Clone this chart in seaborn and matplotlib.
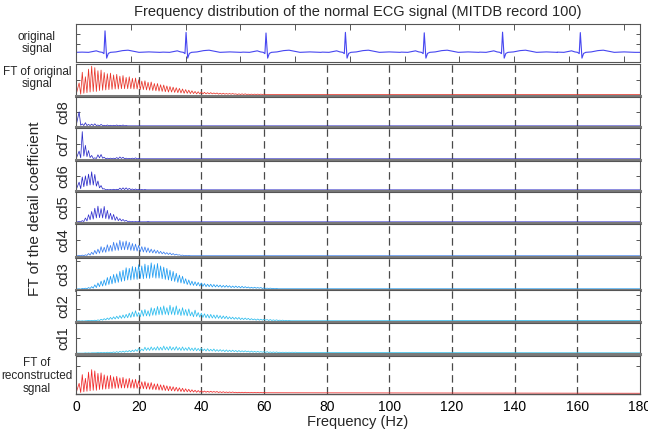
import numpy as np
import pandas as pd
import matplotlib
matplotlib.use("Agg")
import matplotlib.pyplot as plt
import seaborn as sns

sns.set_theme(style="white")
plt.rcParams['font.family'] = ['Liberation Sans', 'DejaVu Sans']

# ---------------- data ----------------
FREQ_STEP = 1.0  # Hz between neighbouring comb peaks

freq_ticks = [0, 20, 40, 60, 80, 100, 120, 140, 160, 180]
grid_freqs = [20, 40, 60, 80, 100, 120, 140, 160]

# original ECG trace: beat (R-peak) times in s, R heights, one beat shape
ecg_beat_times = [0.53, 2.01, 3.47, 4.92, 6.36, 7.79, 9.21]
ecg_r_heights = [1.00, 0.93, 0.90, 0.93, 0.91, 0.94, 0.92]
beat_offsets = [-0.42, -0.30, -0.22, -0.16, -0.10, -0.05, -0.02, 0.0, 0.03, 0.06, 0.10, 0.20, 0.32, 0.42, 0.52, 0.62, 0.80, 1.0]
beat_values = [0.01, 0.0, 0.04, 0.07, 0.02, 0.0, -0.06, 1.0, -0.27, -0.05, 0.0, 0.02, 0.08, 0.10, 0.05, 0.0, 0.02, 0.0]
ecg_time_ticks = [1, 2, 3, 4, 5, 6, 7, 8, 9, 10]

ft_orig_peaks = [40, 75, 60, 85, 95, 90, 80, 82, 74, 70,
                 72, 66, 68, 62, 64, 58, 60, 55, 56, 50,
                 46, 47, 42, 43, 38, 38, 34, 33, 30, 28,
                 26, 24, 22, 20, 18, 16, 14, 12, 11, 10,
                 9, 8, 8, 7, 7, 6, 6, 5, 5, 5,
                 4, 4, 4, 4, 3, 3, 3, 3, 3, 3]
ft_orig_troughs = [3, 6, 8, 10, 12, 12, 15, 16, 17, 18,
                   19, 20, 20, 21, 21, 21, 21, 20, 20, 18,
                   18, 17, 16, 15, 14, 13, 12, 11, 10, 10,
                   9, 8, 7, 6, 6, 5, 5, 4, 4, 4,
                   4, 4, 4, 4, 3, 3, 3, 3, 3, 3,
                   2, 2, 2, 2, 2, 2, 2, 2, 2, 2]

cd8_peaks = [50, 8, 12, 6, 7, 8, 4, 6, 3, 4, 3, 3, 4, 3, 4, 2]
cd8_troughs = [3, 2, 2, 2, 2, 2, 1, 2, 1, 1, 1, 1, 1, 1, 1, 1]

cd7_peaks = [26, 90, 45, 28, 12, 4, 14, 15, 6, 3, 3, 3, 5, 7, 6, 3, 2, 3, 4, 2]
cd7_troughs = [4, 10, 8, 5, 2, 2, 4, 3, 1, 1, 1, 1, 1, 2, 1, 1, 1, 1, 1, 1]

cd6_peaks = [28, 46, 50, 56, 64, 55, 32, 16, 5, 2, 2, 3, 3, 7, 8, 8, 6, 4, 4, 3, 2, 2]
cd6_troughs = [5, 12, 15, 18, 18, 14, 8, 4, 1, 1, 1, 1, 1, 2, 2, 2, 2, 1, 1, 1, 1, 1]

cd5_peaks = [2, 5, 14, 25, 36, 47, 54, 46, 53, 40, 30, 26, 18, 12, 9, 6, 3, 2, 2, 2, 1, 1, 2, 1]
cd5_troughs = [1, 2, 4, 8, 10, 14, 15, 14, 12, 10, 8, 6, 5, 4, 3, 2, 1, 1, 1, 1, 1, 1, 1, 1]

cd4_peaks = [2, 3, 4, 8, 12, 18, 22, 30, 28, 36,
             34, 44, 42, 50, 46, 48, 44, 40, 38, 34,
             30, 29, 26, 22, 20, 18, 15, 13, 11, 10,
             8, 6, 4, 3, 2, 2]
cd4_troughs = [1, 1, 2, 3, 5, 7, 9, 12, 12, 15,
               15, 18, 18, 20, 20, 20, 18, 17, 16, 14,
               13, 12, 11, 10, 9, 8, 7, 6, 5, 4,
               3, 3, 2, 1, 1, 1]

cd3_peaks = [1, 2, 3, 5, 8, 14, 20, 26, 30, 38,
             42, 48, 50, 58, 62, 70, 68, 74, 72, 80,
             76, 82, 78, 86, 80, 84, 76, 72, 68, 62,
             58, 52, 46, 42, 34, 30, 26, 24, 22, 20,
             18, 16, 16, 15, 14, 13, 12, 12, 11, 10,
             10, 9, 9, 8, 7, 6, 6, 5, 5, 4,
             3, 3, 2, 2]
cd3_troughs = [0, 1, 1, 2, 3, 5, 8, 10, 12, 15,
               17, 20, 22, 25, 27, 30, 30, 32, 32, 35,
               34, 36, 35, 38, 36, 36, 34, 32, 30, 27,
               25, 22, 20, 18, 15, 13, 12, 11, 10, 9,
               8, 8, 7, 7, 7, 6, 6, 6, 5, 5,
               5, 4, 4, 4, 3, 3, 3, 3, 2, 2,
               2, 2, 1, 1]

cd2_peaks = [1, 1, 1, 2, 2, 3, 4, 6, 8, 10,
             12, 14, 16, 18, 20, 22, 26, 30, 34, 28,
             36, 38, 34, 44, 42, 48, 46, 50, 44, 52,
             46, 50, 40, 44, 38, 40, 30, 36, 28, 26,
             24, 22, 22, 20, 20, 18, 17, 16, 14, 13,
             12, 12, 10, 10, 9, 8, 7, 7, 6, 6,
             5, 5, 4, 4, 3, 3, 2, 2]
cd2_troughs = [0, 0, 1, 1, 1, 1, 2, 3, 4, 5,
               6, 7, 8, 9, 10, 11, 12, 14, 15, 14,
               16, 17, 16, 19, 19, 21, 20, 22, 20, 22,
               20, 21, 18, 19, 17, 17, 14, 15, 13, 12,
               11, 10, 10, 9, 9, 8, 8, 7, 7, 6,
               6, 5, 5, 5, 4, 4, 3, 3, 3, 3,
               2, 2, 2, 2, 2, 1, 1, 1]

cd1_peaks = [0, 0, 1, 1, 1, 1, 2, 2, 2, 3,
             3, 4, 5, 6, 7, 8, 9, 10, 12, 16,
             14, 20, 18, 21, 19, 22, 20, 24, 21, 23,
             20, 22, 19, 21, 18, 20, 17, 18, 16, 17,
             14, 15, 13, 14, 12, 12, 11, 11, 10, 10,
             9, 9, 8, 8, 7, 7, 6, 6, 5, 5,
             5, 4, 4, 4, 3, 3, 3, 3, 3, 3]
cd1_troughs = [0, 0, 0, 0, 1, 1, 1, 1, 1, 1,
               2, 2, 2, 3, 3, 4, 4, 5, 6, 7,
               8, 9, 9, 10, 10, 10, 10, 11, 10, 10,
               10, 10, 9, 9, 9, 9, 8, 8, 8, 8,
               7, 7, 7, 6, 6, 6, 5, 5, 5, 5,
               4, 4, 4, 4, 3, 3, 3, 3, 3, 2,
               2, 2, 2, 2, 2, 2, 2, 2, 2, 2]

# ---------------- figure layout ----------------
W, H = 648, 430
fig = plt.figure(figsize=(W / 100, H / 100), dpi=100)
X0, X1 = 76, 640


def add_panel(top, bottom):
    return fig.add_axes([X0 / W, 1 - bottom / H, (X1 - X0) / W, (bottom - top) / H])


def comb_frame(peaks, troughs, tail):
    xs, ys = [0.0], [0.0]
    for k, (p, t) in enumerate(zip(peaks, troughs), start=1):
        xs += [k * FREQ_STEP, (k + 0.5) * FREQ_STEP]
        ys += [p, t]
    xs.append(freq_ticks[-1])
    ys.append(tail)
    return pd.DataFrame({"freq": xs, "amp": ys})


def style_axes(ax, ytick_vals):
    for side in ["top", "left", "right"]:
        ax.spines[side].set_color("#555555")
        ax.spines[side].set_linewidth(0.8)
        ax.spines[side].set_visible(True)
    ax.spines["bottom"].set_color("#7a7a7a")
    ax.spines["bottom"].set_linewidth(2.2)
    ax.spines["bottom"].set_visible(True)
    ax.set_yticks(ytick_vals)
    ax.set_yticklabels([])
    ax.tick_params(axis="y", direction="in", length=3, width=0.7, left=True, right=True,
                   colors="#555555")
    ax.set_xlabel("")
    ax.set_ylabel("")


# ECG panel
ax = add_panel(24, 62)
ecg_t, ecg_v = [0.0], [0.0]
for bt, rh in zip(ecg_beat_times, ecg_r_heights):
    for off, val in zip(beat_offsets, beat_values):
        t = bt + off
        if t <= ecg_t[-1] or t > 10.3:
            continue
        ecg_t.append(t)
        ecg_v.append(val * rh if off == 0.0 else val)
ecg_t.append(10.3)
ecg_v.append(0.0)
ecg_df = pd.DataFrame({"t": ecg_t, "v": ecg_v})
sns.lineplot(data=ecg_df, x="t", y="v", ax=ax, color="#4646f0", lw=0.8,
             estimator=None, sort=False)
ax.set_xlim(0, 10.3)
ax.set_ylim(-0.45, 1.32)
style_axes(ax, [0.41, 0.86])
ax.spines["bottom"].set_linewidth(0.8)
ax.spines["bottom"].set_color("#555555")
ax.set_xticks(ecg_time_ticks)
ax.set_xticklabels([])
ax.tick_params(axis="x", direction="in", length=4, width=0.7, top=True, bottom=True,
               colors="#555555")
fig.text(37 / W, 1 - 43 / H, "original\nsignal", ha="center", va="center", fontsize=8.5,
         linespacing=1.1)

panels = [
    # top, bottom, peaks, troughs, tail, colour, ytop, yticks, label
    (64, 96, ft_orig_peaks, ft_orig_troughs, 2, "#e8352a", 102, [50], None),
    (97, 127, cd8_peaks, cd8_troughs, 1, "#2b2bc4", 102, [50], "cd8"),
    (128, 160, cd7_peaks, cd7_troughs, 1, "#2f2fc8", 102, [50], "cd7"),
    (161, 191, cd6_peaks, cd6_troughs, 1, "#2b2bc8", 102, [50], "cd6"),
    (192, 223, cd5_peaks, cd5_troughs, 1, "#3434d0", 102, [50], "cd5"),
    (224, 257, cd4_peaks, cd4_troughs, 1, "#3a7ef0", 102, [50], "cd4"),
    (258, 290, cd3_peaks, cd3_troughs, 1, "#1e9cf2", 102, [92], "cd3"),
    (290, 322, cd2_peaks, cd2_troughs, 2, "#2cbcee", 102, [40, 85], "cd2"),
    (323, 354, cd1_peaks, cd1_troughs, 1, "#34c4ee", 102, [50], "cd1"),
    (356, 394, ft_orig_peaks, ft_orig_troughs, 0, "#f02828", 150, [110], None),
]

for i, (top, bot, pk, tr, tail, col, ytop, yt, lab) in enumerate(panels):
    ax = add_panel(top, bot)
    df = comb_frame(pk, tr, tail)
    for g in grid_freqs:
        ax.axvline(g, color="#4a4a4a", lw=0.9, linestyle=(0, (6, 3.5)), zorder=0)
    sns.lineplot(data=df, x="freq", y="amp", ax=ax, color=col, lw=0.55,
                 estimator=None, sort=False)
    ax.set_xlim(freq_ticks[0], freq_ticks[-1])
    ax.set_ylim(-3, ytop)
    style_axes(ax, yt)
    ax.set_xticks(freq_ticks)
    if i == len(panels) - 1:
        ax.spines["bottom"].set_linewidth(1.0)
        ax.spines["bottom"].set_color("#555555")
        ax.set_xticklabels([str(v) for v in freq_ticks], fontsize=10)
        ax.tick_params(axis="x", direction="in", length=0, pad=4, colors="black")
        ax.set_xlabel("Frequency (Hz)", fontsize=10.5, labelpad=1)
    else:
        ax.set_xticklabels([])
        ax.tick_params(axis="x", length=0)
    if lab is not None:
        fig.text(63 / W, 1 - (top + bot) / 2 / H, lab, rotation=90, ha="center",
                 va="center", fontsize=10.5)

fig.text(37 / W, 1 - 78 / H, "FT of original\nsignal", ha="center", va="center",
         fontsize=8.5, linespacing=1.1)
fig.text(37 / W, 1 - 376 / H, "FT of\nreconstructed\nsgnal", ha="center", va="center",
         fontsize=8.5, linespacing=1.1)
fig.text(35 / W, 1 - 209 / H, "FT of the detail coefficient", rotation=90, ha="center",
         va="center", fontsize=11)
fig.text((X0 + X1) / 2 / W, 1 - 12 / H,
         "Frequency distribution of the normal ECG signal (MITDB record 100)",
         ha="center", va="center", fontsize=10.5)

fig.savefig("out.png", dpi=100)
